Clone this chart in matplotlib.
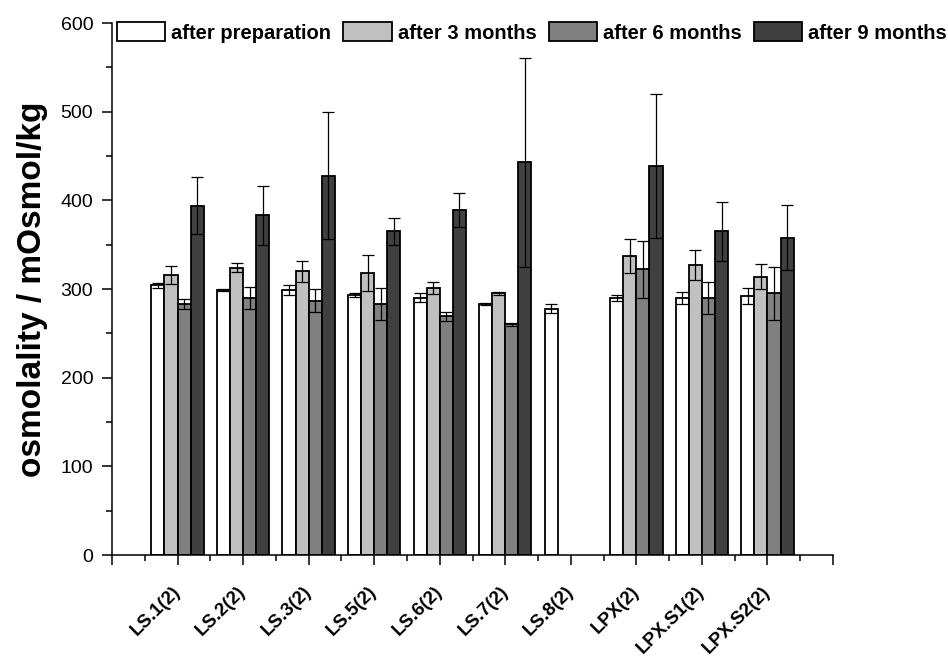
import matplotlib
matplotlib.use("Agg")
import matplotlib.pyplot as plt
from matplotlib.ticker import MultipleLocator
import numpy as np

plt.rcParams['font.family'] = ['Liberation Sans', 'DejaVu Sans']

samples = ['LS.1(2)', 'LS.2(2)', 'LS.3(2)', 'LS.5(2)', 'LS.6(2)',
           'LS.7(2)', 'LS.8(2)', 'LPX(2)', 'LPX.S1(2)', 'LPX.S2(2)']

nan = np.nan
after_prep = [304, 299, 299, 293, 290, 283, 278, 290, 290, 292]
after_prep_err = [3, 1, 6, 2, 5, 1, 5, 3, 7, 9]
after_3m = [316, 324, 320, 318, 301, 295, nan, 337, 327, 314]
after_3m_err = [10, 5, 12, 20, 7, 2, nan, 19, 17, 14]
after_6m = [283, 290, 287, 283, 269, 260, nan, 322, 290, 295]
after_6m_err = [6, 12, 13, 18, 5, 2, nan, 32, 18, 30]
after_9m = [394, 383, 428, 365, 389, 443, nan, 439, 365, 358]
after_9m_err = [32, 33, 72, 15, 19, 118, nan, 81, 33, 37]

series = [
    ("after preparation", after_prep, after_prep_err, "#ffffff"),
    ("after 3 months", after_3m, after_3m_err, "#c0c0c0"),
    ("after 6 months", after_6m, after_6m_err, "#808080"),
    ("after 9 months", after_9m, after_9m_err, "#404040"),
]

fig = plt.figure(figsize=(9.48, 6.61), dpi=100)
ax = fig.add_axes([112 / 948, 1 - 555 / 661, (833 - 112) / 948, (555 - 23) / 661])

# four bars per sample, centred on the integer tick
x = np.arange(1, len(samples) + 1)
width = 0.2
for i, (label, vals, errs, color) in enumerate(series):
    pos = x + (i - 1.5) * width
    ax.bar(pos, vals, width, color=color, edgecolor="black", linewidth=1.3,
           label=label, zorder=2)
    ax.errorbar(pos, vals, yerr=errs, fmt="none", ecolor="black",
                elinewidth=0.9, capsize=4, capthick=0.9, zorder=3)

ax.set_xlim(0, 11)
ax.set_ylim(0, 600)
ax.set_xticks(np.arange(0, 12))
ax.set_xticklabels([''] + samples + [''], rotation=45, ha='right', va='center',
                   rotation_mode='anchor', fontsize=13.5, fontweight='bold')
ax.xaxis.set_minor_locator(MultipleLocator(0.5))
ax.yaxis.set_major_locator(MultipleLocator(100))
ax.yaxis.set_minor_locator(MultipleLocator(50))

for side in ("top", "right"):
    ax.spines[side].set_visible(False)
for side in ("left", "bottom"):
    ax.spines[side].set_linewidth(1.1)

ax.tick_params(axis='both', which='major', direction='out', length=7.5, width=1.1)
ax.tick_params(axis='both', which='minor', direction='out', length=4.5, width=1.1)
ax.tick_params(axis='y', which='major', labelsize=14, pad=6)
ax.tick_params(axis='x', which='major', pad=17)

ax.set_ylabel("osmolality / mOsmol/kg", fontsize=24, fontweight='bold', labelpad=9)

ax.legend(loc='upper left', bbox_to_anchor=(117 / 948, 1 - 22 / 661),
          bbox_transform=fig.transFigure, ncol=4, frameon=False,
          prop={'size': 14.5, 'weight': 'bold'}, borderpad=0, borderaxespad=0,
          handlelength=2.4, handleheight=1.1, handletextpad=0.3,
          columnspacing=0.6)

fig.savefig("out.png", dpi=100)
